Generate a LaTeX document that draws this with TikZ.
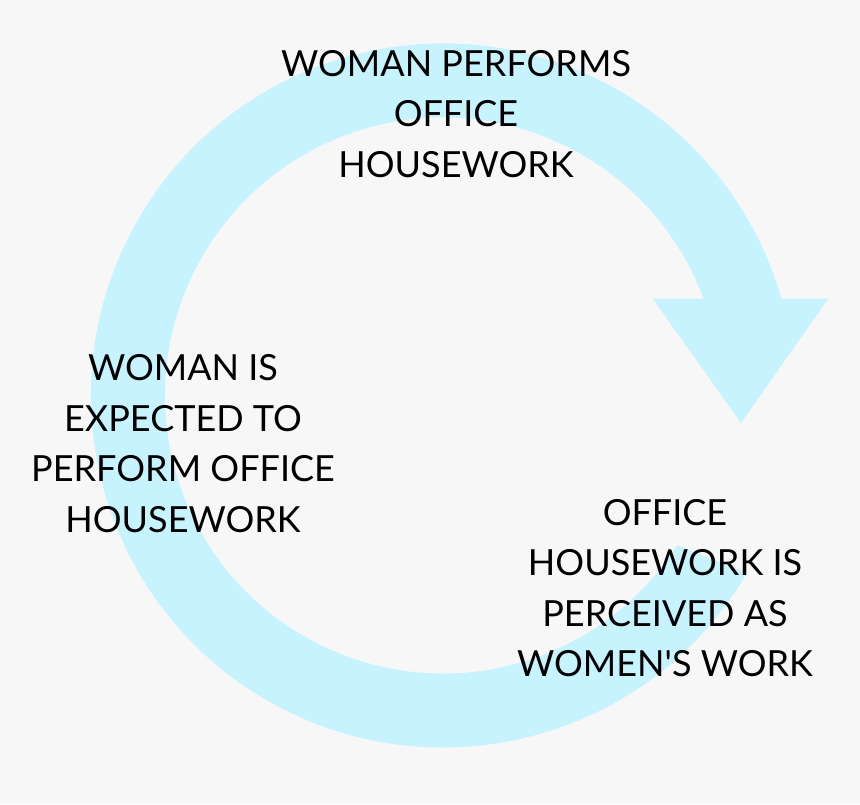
\documentclass[tikz,border=0pt]{standalone}
\usepackage{fontspec}
\setmainfont{Lato}[Ligatures=TeXOff]
\usetikzlibrary{calc}
\definecolor{bgc}{HTML}{F7F7F7}
\definecolor{ringc}{HTML}{C6F3FE}
\begin{document}
\begin{tikzpicture}[x=1pt,y=1pt,
  lbl/.style={align=center,inner sep=0pt,text=black,font=\fontsize{36}{50.5}\selectfont}]
\fill[bgc] (0,0) rectangle (860,804);
\useasboundingbox (0,0) rectangle (860,804);
\coordinate (c) at (443,408.5);
% ring
\fill[ringc] ($(c)+(-30.3:352)$) arc[start angle=-30.3, end angle=-345, radius=352]
  -- ($(c)+(19:278)$) arc[start angle=19, end angle=327.4, radius=278] -- cycle;
% arrow head
\coordinate (hl) at (653,505);
\coordinate (hr) at (828,505);
\coordinate (ht) at (741,381);
\fill[ringc] (hl) -- (hr) -- (ht) -- cycle;
\node[lbl] (top) at (456,690) {WOMAN PERFORMS\\OFFICE\\HOUSEWORK};
\node[lbl] (left) at (183,360.5) {WOMAN IS\\EXPECTED TO\\PERFORM OFFICE\\HOUSEWORK};
\node[lbl] (right) at (665,216) {OFFICE\\HOUSEWORK IS\\PERCEIVED AS\\WOMEN'S WORK};
\end{tikzpicture}
\end{document}
